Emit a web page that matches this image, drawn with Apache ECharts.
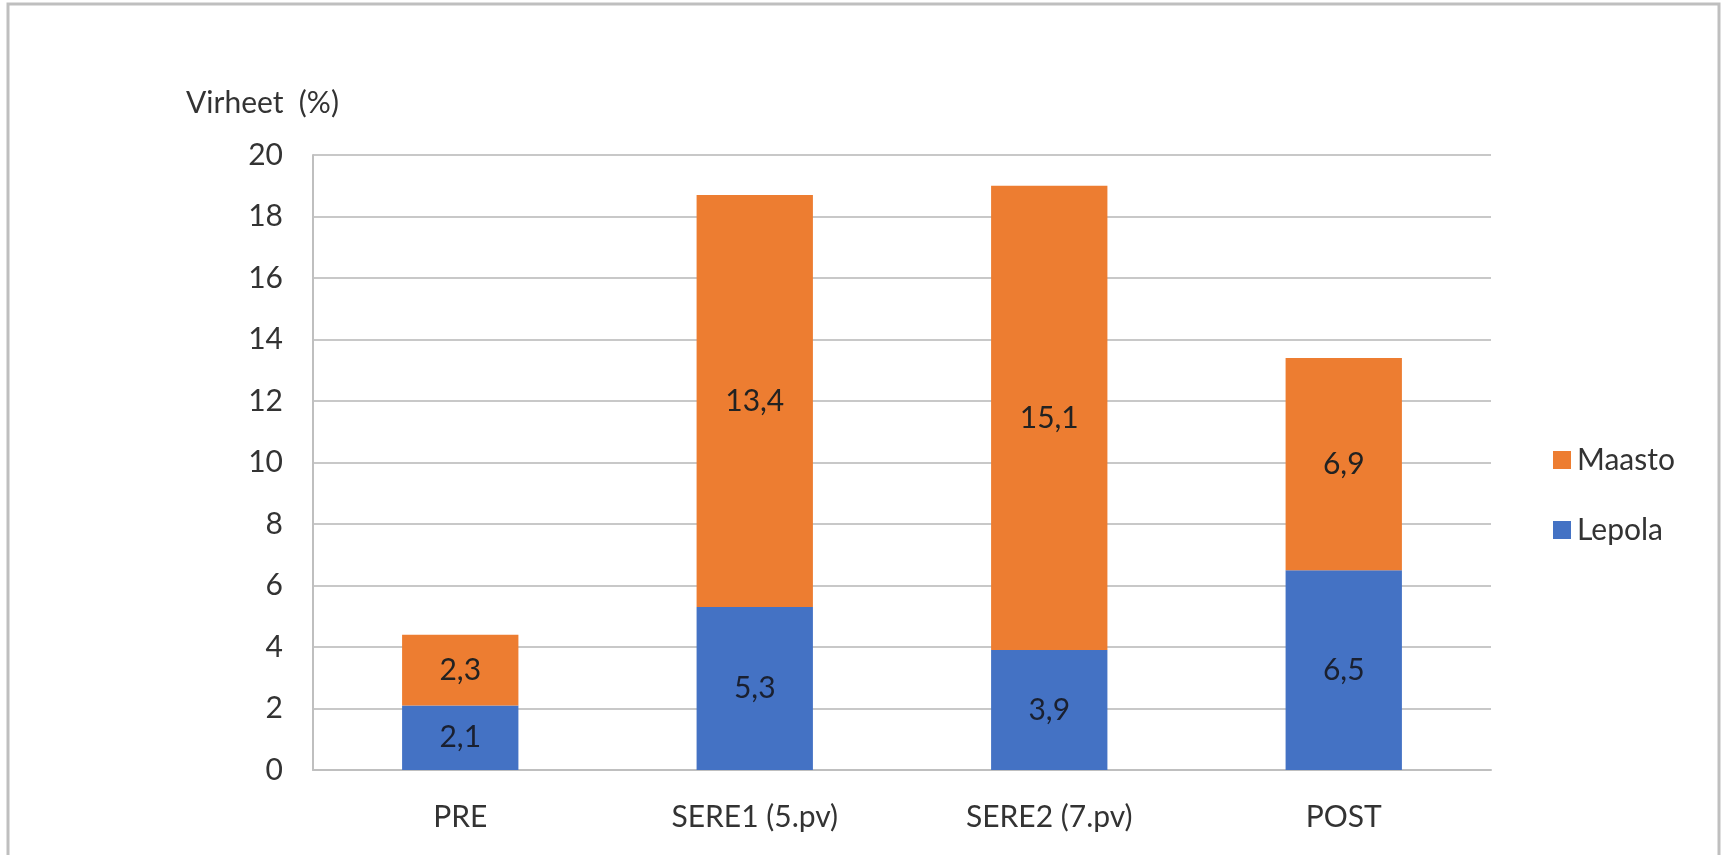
<!DOCTYPE html>
<html>
<head>
<meta charset="utf-8">
<title>Virheet (%)</title>
<script src="https://cdn.jsdelivr.net/npm/echarts@6/dist/echarts.min.js"></script>
<style>
  html, body { margin: 0; padding: 0; background: #ffffff; }
  #chart { width: 1723px; height: 855px; }
</style>
</head>
<body>
<div id="chart"></div>
<script>
// Measurement phases
const categories = ['PRE', 'SERE1 (5.pv)', 'SERE2 (7.pv)', 'POST'];
// Error share (%) per environment
const lepola = [2.1, 5.3, 3.9, 6.5];
const maasto = [2.3, 13.4, 15.1, 6.9];
const yTicks = { min: 0, max: 20, interval: 2 };

const FONT = 'Lato';
const TEXT = '#333333';
const fmt = v => String(v).replace('.', ',');

const chart = echarts.init(document.getElementById('chart'), null, { renderer: 'canvas' });

chart.setOption({
  backgroundColor: '#ffffff',
  animation: false,
  graphic: [{
    type: 'rect',
    shape: { x: 8, y: 4, width: 1711, height: 853 },
    style: { fill: 'none', stroke: '#bfbfbf', lineWidth: 3 },
    silent: true
  }, {
    type: 'text',
    left: 186,
    top: 88,
    style: { text: 'Virheet  (%)', fill: TEXT, font: '30px ' + FONT }
  }],
  grid: { left: 313, right: 232, top: 155, bottom: 85, containLabel: false },
  legend: {
    data: ['Maasto', 'Lepola'],
    orient: 'vertical',
    left: 1548,
    top: 440,
    itemWidth: 18,
    itemHeight: 18,
    itemGap: 40,
    icon: 'rect',
    textStyle: { fontFamily: FONT, fontSize: 30, color: TEXT, padding: [0, 0, 0, 1] }
  },
  xAxis: {
    type: 'category',
    data: categories,
    axisTick: { show: false },
    axisLine: { lineStyle: { color: '#bfbfbf', width: 2 } },
    axisLabel: { fontFamily: FONT, fontSize: 30, color: TEXT, margin: 32 }
  },
  yAxis: {
    type: 'value',
    min: yTicks.min,
    max: yTicks.max,
    interval: yTicks.interval,
    axisLine: { show: true, lineStyle: { color: '#bfbfbf', width: 2 } },
    axisTick: { show: false },
    splitLine: { lineStyle: { color: '#c8c8c8', width: 2 } },
    axisLabel: { fontFamily: FONT, fontSize: 30, color: TEXT, margin: 30 }
  },
  series: [{
    name: 'Lepola',
    type: 'bar',
    stack: 'total',
    data: lepola,
    barWidth: '39.5%',
    itemStyle: { color: '#4472C4' },
    label: {
      show: true, position: 'inside', formatter: p => fmt(p.value),
      fontFamily: FONT, fontSize: 30, color: '#1a2030'
    }
  }, {
    name: 'Maasto',
    type: 'bar',
    stack: 'total',
    data: maasto,
    itemStyle: { color: '#ED7D31' },
    label: {
      show: true, position: 'inside', formatter: p => fmt(p.value),
      fontFamily: FONT, fontSize: 30, color: '#222222'
    }
  }]
});
</script>
</body>
</html>
